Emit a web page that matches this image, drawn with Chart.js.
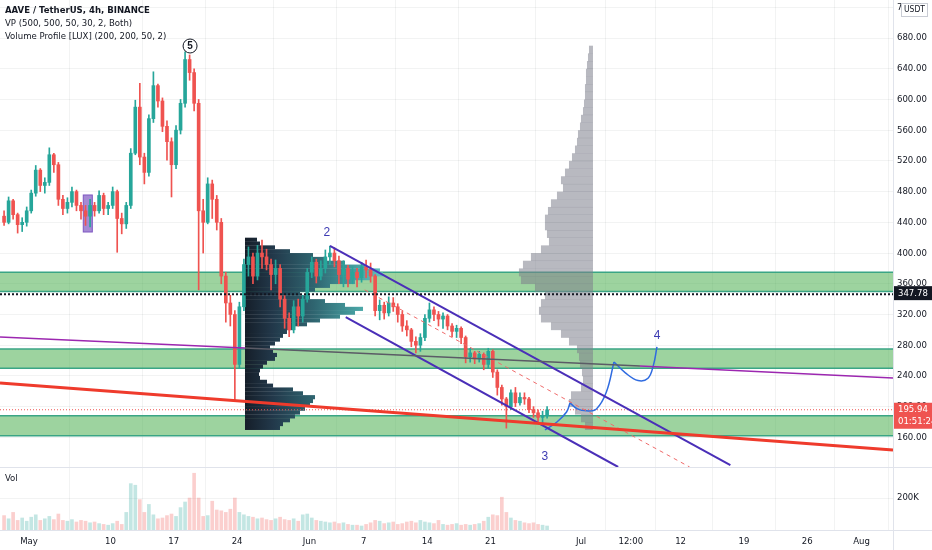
<!DOCTYPE html>
<html>
<head>
<meta charset="utf-8">
<script src="https://cdn.jsdelivr.net/npm/chart.js@4.4.1/dist/chart.umd.min.js"></script>
<style>html,body{margin:0;padding:0;background:#fff}canvas{display:block}</style>
</head>
<body>
<canvas id="c" width="932" height="550"></canvas>
<script>
// day 0 = 1 May 2021, one candle = 12h
var startDay = -3;
var firstOpen = 448;
var closes = [440,468,450,437,440,455,478,508,488,492,
  528,515,470,458,466,480,462,455,448,462,
  455,475,458,462,480,445,438,462,530,590,
  525,505,575,618,598,565,545,515,560,595,
  652,635,595,455,440,490,470,440,370,335,
  320,255,330,385,395,370,400,395,385,372,
  380,340,315,300,330,318,340,375,388,370,
  380,395,400,390,372,380,366,375,368,382,
  378,370,325,332,322,335,330,320,305,300,
  285,280,290,315,326,320,314,318,305,298,
  302,290,265,270,262,268,255,272,245,225,
  210,200,218,205,212,210,196,192,186,188,195.94];
var highs = [455,473,470,452,446,460,482,514,510,498,
  537,530,518,475,472,486,482,466,462,470,
  466,481,478,466,486,482,452,466,536,599,
  621,530,580,636,620,602,572,550,566,600,
  662,658,640,600,470,498,495,475,445,375,
  345,325,336,392,408,400,410,417,405,392,
  391,385,345,322,338,340,345,380,395,392,
  390,404,409,407,396,390,384,382,380,388,
  391,387,372,339,336,343,342,334,324,312,
  302,291,295,320,335,330,324,322,320,308,
  306,304,292,276,272,272,270,276,274,248,
  228,212,222,225,218,218,212,200,196,194,200];
var lows = [436,438,444,426,428,435,452,474,480,478,
  488,505,462,450,452,460,455,444,436,434,
  448,452,450,450,458,401,425,432,458,528,
  515,490,500,570,590,558,521,473,510,555,
  590,625,585,352,400,438,445,430,360,310,
  305,209,250,325,370,360,365,380,378,352,
  360,330,302,291,296,305,310,336,368,361,
  365,374,385,382,360,356,356,360,356,362,
  368,362,318,313,314,318,324,310,298,292,
  278,270,272,286,310,312,305,302,300,291,
  290,282,257,258,256,258,248,250,238,215,
  202,172,196,200,202,203,192,186,180,179,185];
var volumes = [90,70,110,60,75,55,80, 95,60,70,85,65,100,60,
  55,65,50,60,55,45,50, 40,35,30,40,55,35,110,
  290,280,190,110,160,95,70, 75,90,100,85,140,175,200,
  355,200,85,90,180,125,120, 110,130,200,110,95,85,80,
  70,75,65,60,70,80,65, 60,70,55,95,100,75,60,
  55,50,45,50,40,45,35, 30,30,25,35,45,60,55,
  40,45,50,35,40,50,55, 45,60,50,45,40,60,35,
  30,35,40,30,35,30,35, 40,55,80,95,90,205,110,
  75,60,55,45,40,45,35, 30,25]; // thousands

var xTickDays = [0, 9, 16, 23, 31, 37, 44, 51, 61, 66.5, 72, 79, 86, 92];
var xTickLabels = ['May','10','17','24','Jun','7','14','21','Jul','12:00','12','19','26','Aug'];
var priceTicks = [160,200,240,280,320,360,400,440,480,520,560,600,640,680,720];

var lastPrice = 195.94;
var pocPrice = 347.78;
var zoneLow = [162, 250, 350];
var zoneHigh = [188, 275, 375];

// VP (right, grey) : 10 USDT bins from 170
var vpBinStart = 170, vpBinSize = 10;
var vpVolumes = [8,12,18,24,22,12,10,11,13,14,16,24,32,42,52,54,52,48,58,72,
  74,70,62,52,44,46,48,48,45,42,36,30,32,28,24,21,18,16,15,13,
  12,10,9,8,8,7,7,6,5,4];
// Volume Profile [LUX] (dark) : 5 USDT bins from 170
var luxBinStart = 170, luxBinSize = 5;
var luxVolumes = [35,38,45,50,55,60,65,68,70,58,48,28,22,15,14,15,18,22,30,32,
  28,25,30,35,38,42,48,62,75,95,110,118,100,80,65,55,70,85,110,125,
  138,135,120,100,80,68,45,30,15,12];

// drawings
var redLine = [[-3.2, 230.8], [95.47, 143.6]];
var purpleLeft = [[-3.2, 290.7], [23.87, 276.4]];
var greyMid = [[23.87, 276.4], [67.51, 253]];
var purpleRight = [[67.51, 253], [95.47, 237.3]];
var chanTop = [[33.26, 409.2], [77.5, 124]];
var chanBottom = [[35.0, 316.7], [65.1, 121.4]];
var midDash = [[37.1, 352], [73.0, 121.4]];
var path1 = [[57.02, 169.6], [58.34, 180], [59.4, 193], [59.78, 204.8]];
var path2 = [[59.78, 204.8], [60.6, 197], [61.6, 194.5], [62.7, 197], [63.8, 219], [64.64, 258.2]];
var path3 = [[64.64, 258.2], [65.9, 244], [67.3, 234], [68.4, 237], [69.0, 254], [69.39, 277.7]];
var waveLabels = [['2', 32.9, 427], ['3', 57.0, 134.5], ['4', 69.4, 293]];
var circleLabel = ['5', 17.8, 669.6];
var boxDays = [6.0, 7.0]; // purple box
var boxPrices = [427.4, 475.6];

var UP = '#26a69a', DOWN = '#ef5350';
var FONT = '"Liberation Sans Narrow", "DejaVu Sans Condensed", "Liberation Sans", Arial, sans-serif';

var opens = closes.map(function (c, i) { return i === 0 ? firstOpen : closes[i - 1]; });
var xs = closes.map(function (c, i) { return startDay + i * 0.5 + 0.25; });
var cols = closes.map(function (c, i) { return c >= opens[i] ? UP : DOWN; });
var volCols = closes.map(function (c, i) { return c >= opens[i] ? 'rgba(38,166,154,0.28)' : 'rgba(239,83,80,0.28)'; });

function pts(a) { return a.map(function (p) { return { x: p[0], y: p[1] }; }); }
function lineDs(a, color, width, extra) {
  var d = { type: 'line', data: pts(a), borderColor: color, borderWidth: width, pointRadius: 0,
    fill: false, tension: 0, yAxisID: 'y', order: 0 };
  for (var k in extra) d[k] = extra[k];
  return d;
}
function noPad(s) { s.paddingTop = 0; s.paddingBottom = 0; s.paddingLeft = 0; s.paddingRight = 0; }

var overlay = {
  id: 'overlay',
  beforeDatasetsDraw: function (chart) {
    var ctx = chart.ctx, xsc = chart.scales.x, ys = chart.scales.y, a = chart.chartArea;
    ctx.save();
    // zones
    for (var i = 0; i < zoneLow.length; i++) {
      var t = ys.getPixelForValue(zoneHigh[i]), b = ys.getPixelForValue(zoneLow[i]);
      ctx.fillStyle = 'rgba(76,175,80,0.55)';
      ctx.fillRect(a.left, t, a.right - a.left, b - t);
      ctx.strokeStyle = '#3aa585';
      ctx.lineWidth = 1.5;
      ctx.beginPath();
      ctx.moveTo(a.left, t); ctx.lineTo(a.right, t);
      ctx.moveTo(a.left, b); ctx.lineTo(a.right, b);
      ctx.stroke();
    }
    // purple box
    var bx0 = xsc.getPixelForValue(boxDays[0]), bx1 = xsc.getPixelForValue(boxDays[1]);
    var by0 = ys.getPixelForValue(boxPrices[1]), by1 = ys.getPixelForValue(boxPrices[0]);
    ctx.fillStyle = 'rgba(149,117,205,0.85)';
    ctx.fillRect(bx0, by0, bx1 - bx0, by1 - by0);
    ctx.strokeStyle = '#7e57c2'; ctx.lineWidth = 1;
    ctx.strokeRect(bx0, by0, bx1 - bx0, by1 - by0);

    // grey VP anchored right
    var vpRight = xsc.getPixelForValue(62.32);
    var vpMax = Math.max.apply(null, vpVolumes), vpMaxW = vpRight - xsc.getPixelForValue(62.32 - 8.18);
    ctx.fillStyle = 'rgba(125,128,140,0.55)';
    for (i = 0; i < vpVolumes.length; i++) {
      var y0 = ys.getPixelForValue(vpBinStart + (i + 1) * vpBinSize), y1 = ys.getPixelForValue(vpBinStart + i * vpBinSize);
      var w = vpVolumes[i] / vpMax * vpMaxW;
      ctx.fillRect(vpRight - w, y0, w, y1 - y0 + 0.3);
    }
    // LUX profile anchored left
    var lx = xsc.getPixelForValue(23.87);
    var lMax = Math.max.apply(null, luxVolumes), lMaxW = xsc.getPixelForValue(23.87 + 15.25) - lx;
    var g = ctx.createLinearGradient(lx, 0, lx + lMaxW, 0);
    g.addColorStop(0, '#151e29');
    g.addColorStop(0.2, '#22384a');
    g.addColorStop(0.5, '#2f6570');
    g.addColorStop(0.8, '#469ea0');
    g.addColorStop(1, '#62c4bf');
    ctx.fillStyle = g;
    for (i = 0; i < luxVolumes.length; i++) {
      var ly0 = ys.getPixelForValue(luxBinStart + (i + 1) * luxBinSize), ly1 = ys.getPixelForValue(luxBinStart + i * luxBinSize);
      var lw = luxVolumes[i] / lMax * lMaxW;
      ctx.fillRect(lx, ly0, lw, ly1 - ly0 + 0.3);
    }
    // last price line
    var yl = ys.getPixelForValue(lastPrice);
    ctx.strokeStyle = '#ef5350'; ctx.lineWidth = 1; ctx.setLineDash([1, 2]);
    ctx.beginPath(); ctx.moveTo(a.left, yl); ctx.lineTo(a.right, yl); ctx.stroke();
    ctx.restore();
  },
  afterDatasetsDraw: function (chart) {
    var ctx = chart.ctx, ys = chart.scales.y, a = chart.chartArea;
    ctx.save();
    var yp = ys.getPixelForValue(pocPrice);
    ctx.strokeStyle = '#131722'; ctx.lineWidth = 2; ctx.setLineDash([2, 2]);
    ctx.beginPath(); ctx.moveTo(a.left, yp + 1); ctx.lineTo(a.right, yp + 1); ctx.stroke();
    ctx.restore();
  },
  afterDraw: function (chart) {
    var ctx = chart.ctx, xsc = chart.scales.x, ys = chart.scales.y, a = chart.chartArea;
    ctx.save();
    // pane separator + borders
    ctx.strokeStyle = '#e0e3eb'; ctx.lineWidth = 1;
    ctx.beginPath();
    ctx.moveTo(0, Math.round(ys.bottom) + 0.5); ctx.lineTo(932, Math.round(ys.bottom) + 0.5);
    ctx.moveTo(0, Math.round(a.bottom) + 0.5); ctx.lineTo(932, Math.round(a.bottom) + 0.5);
    ctx.moveTo(Math.round(a.right) + 0.5, 0); ctx.lineTo(Math.round(a.right) + 0.5, 550);
    ctx.stroke();

    // legend
    ctx.fillStyle = '#131722';
    ctx.textBaseline = 'middle';
    ctx.textAlign = 'left';
    ctx.font = 'bold 9.5px ' + FONT;
    ctx.fillText('AAVE / TetherUS, 4h, BINANCE', 5, 11);
    ctx.font = '9.5px ' + FONT;
    ctx.fillText('VP (500, 500, 50, 30, 2, Both)', 5, 24);
    ctx.fillText('Volume Profile [LUX] (200, 200, 50, 2)', 5, 37);
    ctx.fillText('Vol', 5, ys.bottom + 12);

    // wave labels
    ctx.fillStyle = '#3d3bb3';
    ctx.font = '12px "Liberation Sans", Arial, sans-serif';
    ctx.textAlign = 'center';
    waveLabels.forEach(function (l) {
      ctx.fillText(l[0], xsc.getPixelForValue(l[1]), ys.getPixelForValue(l[2]));
    });
    var cx = xsc.getPixelForValue(circleLabel[1]), cy = ys.getPixelForValue(circleLabel[2]);
    ctx.strokeStyle = '#131722'; ctx.lineWidth = 1;
    ctx.beginPath(); ctx.arc(cx, cy, 7, 0, Math.PI * 2); ctx.stroke();
    ctx.fillStyle = '#131722'; ctx.font = 'bold 10px "Liberation Sans", Arial, sans-serif';
    ctx.fillText(circleLabel[0], cx, cy + 0.5);

    // price boxes
    ctx.textAlign = 'left';
    var yp = ys.getPixelForValue(pocPrice);
    ctx.fillStyle = '#131722';
    ctx.fillRect(a.right + 1, yp - 7, 932 - a.right, 14);
    ctx.fillStyle = '#fff'; ctx.font = '9.5px ' + FONT;
    ctx.fillText(pocPrice.toFixed(2), a.right + 5, yp + 0.5);
    var yl = ys.getPixelForValue(lastPrice);
    ctx.fillStyle = '#ef5350';
    ctx.fillRect(a.right + 1, yl - 7, 932 - a.right, 26);
    ctx.fillStyle = '#fff';
    ctx.fillText(lastPrice.toFixed(2), a.right + 5, yl);
    ctx.fillText('01:51:24', a.right + 5, yl + 12);

    // USDT box
    ctx.fillStyle = '#fff';
    ctx.strokeStyle = '#c9ccd4';
    ctx.fillRect(a.right + 8, 3, 26, 13);
    ctx.strokeRect(a.right + 8.5, 3.5, 26, 13);
    ctx.fillStyle = '#131722'; ctx.font = '8.5px ' + FONT;
    ctx.textAlign = 'center';
    ctx.fillText('USDT', a.right + 21.5, 10);
    ctx.restore();
  }
};

var datasets = [
  lineDs(redLine, '#ef3b2c', 3),
  lineDs(purpleLeft, '#9c27b0', 1.5),
  lineDs(greyMid, '#5b5b66', 1.5),
  lineDs(purpleRight, '#9c27b0', 1.5),
  lineDs(chanTop, '#4a2fb8', 2),
  lineDs(chanBottom, '#4a2fb8', 2),
  lineDs(midDash, '#ef6b6b', 1, { borderDash: [4, 4] }),
  lineDs(path1, '#2f6be0', 1.5, { tension: 0.4 }),
  lineDs(path2, '#2f6be0', 1.5, { tension: 0.4 }),
  lineDs(path3, '#2f6be0', 1.5, { tension: 0.4 }),
  { type: 'bar', data: xs.map(function (x, i) { return { x: x, y: [lows[i], highs[i]] }; }),
    backgroundColor: cols, barThickness: 1, grouped: false, yAxisID: 'y', order: 2 },
  { type: 'bar', data: xs.map(function (x, i) { return { x: x, y: [opens[i], closes[i]] }; }),
    backgroundColor: cols, barThickness: 3, minBarLength: 1, grouped: false, yAxisID: 'y', order: 1 },
  { type: 'bar', data: xs.map(function (x, i) { return { x: x, y: volumes[i] * 1000 }; }),
    backgroundColor: volCols, barThickness: 3, grouped: false, yAxisID: 'yv', order: 3 }
];

var gridCol = 'rgba(42,46,57,0.06)';
var tickFont = { size: 9.5, family: FONT };
new Chart(document.getElementById('c'), {
  data: { datasets: datasets },
  options: {
    responsive: false,
    animation: false,
    layout: { padding: 0 },
    plugins: { legend: { display: false }, tooltip: { enabled: false } },
    scales: {
      x: {
        type: 'linear', min: -3.2, max: 95.47, offset: false,
        grid: { color: gridCol, drawTicks: false },
        border: { display: false },
        afterBuildTicks: function (s) { s.ticks = xTickDays.map(function (v) { return { value: v }; }); },
        afterFit: function (s) { s.height = 20; noPad(s); },
        ticks: { autoSkip: false, maxRotation: 0, padding: 6, color: '#131722', font: tickFont,
          callback: function (v, i) { return xTickLabels[i]; } }
      },
      y: {
        type: 'linear', position: 'right', stack: 'pane', stackWeight: 467, min: 121.4, max: 729.5,
        grid: { color: gridCol, drawTicks: false },
        border: { display: false },
        afterBuildTicks: function (s) { s.ticks = priceTicks.map(function (v) { return { value: v }; }); },
        afterFit: function (s) { s.width = 39; noPad(s); },
        ticks: { padding: 4, color: '#131722', font: tickFont,
          callback: function (v) { return Number(v).toFixed(2); } }
      },
      yv: {
        type: 'linear', position: 'right', stack: 'pane', stackWeight: 63, min: 0, max: 394000,
        grid: { color: gridCol, drawTicks: false },
        border: { display: false },
        afterBuildTicks: function (s) { s.ticks = [{ value: 200000 }]; },
        afterFit: function (s) { s.width = 39; noPad(s); },
        ticks: { padding: 4, color: '#131722', font: tickFont,
          callback: function (v) { return (v / 1000) + 'K'; } }
      }
    }
  },
  plugins: [overlay]
});
</script>
</body>
</html>
